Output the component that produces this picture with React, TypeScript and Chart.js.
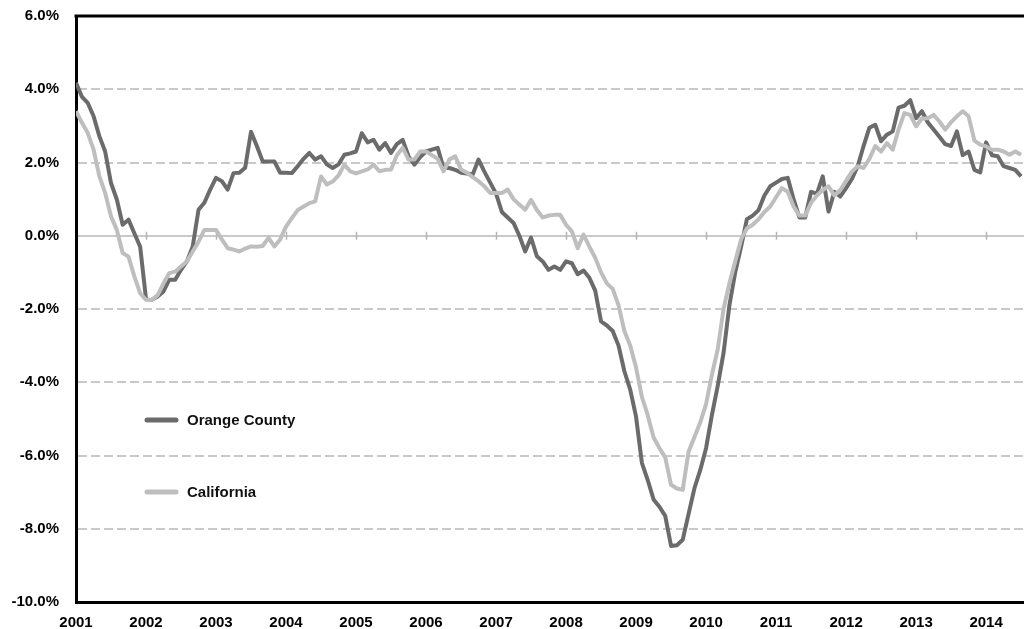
import React, { useEffect, useRef } from "react";
import { Chart, registerables } from "chart.js";

Chart.register(...registerables);

// Monthly year-over-year change, Jan 2001 .. Jul 2014
const orangeCounty: number[] = [
  4.18, 3.8, 3.63, 3.27, 2.72, 2.3, 1.44, 0.99, 0.3, 0.44, 0.07, -0.3,
  -1.72, -1.75, -1.66, -1.52, -1.2, -1.2, -0.93, -0.7, -0.3, 0.71, 0.9, 1.26,
  1.58, 1.49, 1.26, 1.71, 1.72, 1.86, 2.84, 2.45, 2.03, 2.03, 2.03, 1.72,
  1.72, 1.71, 1.9, 2.1, 2.26, 2.08, 2.17, 1.95, 1.85, 1.95, 2.21, 2.25,
  2.3, 2.8, 2.55, 2.62, 2.35, 2.53, 2.26, 2.5, 2.62, 2.17, 1.94, 2.15,
  2.3, 2.35, 2.4, 1.85, 1.85, 1.8, 1.72, 1.7, 1.67, 2.08, 1.75, 1.45,
  1.15, 0.65, 0.5, 0.35, 0.0, -0.43, -0.05, -0.56, -0.7, -0.93, -0.84, -0.93,
  -0.7, -0.75, -1.05, -0.95, -1.15, -1.5, -2.34, -2.45, -2.6, -3.0, -3.7, -4.2,
  -4.94, -6.2, -6.67, -7.2, -7.4, -7.65, -8.47, -8.45, -8.3, -7.6, -6.9, -6.4,
  -5.8, -4.9, -4.1, -3.2, -1.9, -1.0, -0.3, 0.45, 0.55, 0.7, 1.1, 1.35,
  1.45, 1.55, 1.58, 1.0, 0.5, 0.5, 1.2, 1.15, 1.62, 0.66, 1.2, 1.07,
  1.3, 1.55, 1.9, 2.45, 2.95, 3.03, 2.58, 2.76, 2.85, 3.5, 3.55, 3.7,
  3.21, 3.4, 3.1, 2.9, 2.7, 2.5, 2.45, 2.85, 2.2, 2.3, 1.8, 1.73,
  2.55, 2.2, 2.17, 1.9, 1.85, 1.8, 1.62,
];

const california: number[] = [
  3.4, 3.09, 2.81, 2.36, 1.63, 1.17, 0.53, 0.16, -0.47, -0.57, -1.11, -1.57,
  -1.75, -1.75, -1.62, -1.3, -1.02, -0.98, -0.84, -0.7, -0.43, -0.16, 0.16, 0.16,
  0.16, -0.1, -0.34, -0.38, -0.43, -0.35, -0.29, -0.3, -0.28, -0.06, -0.29, -0.1,
  0.25, 0.48, 0.7, 0.8, 0.89, 0.94, 1.62, 1.4, 1.48, 1.65, 1.94, 1.76,
  1.7, 1.76, 1.81, 1.94, 1.76, 1.8, 1.81, 2.2, 2.4, 2.08, 2.08, 2.3,
  2.3, 2.2, 2.1, 1.76, 2.08, 2.17, 1.81, 1.72, 1.6, 1.49, 1.35, 1.17,
  1.17, 1.17, 1.26, 1.0, 0.85, 0.71, 0.98, 0.7, 0.5, 0.55, 0.57, 0.57,
  0.3, 0.12, -0.34, 0.03, -0.3, -0.6, -1.0, -1.3, -1.45, -1.9, -2.6, -3.0,
  -3.6, -4.4, -4.9, -5.5, -5.8, -6.05, -6.8, -6.9, -6.94, -5.9, -5.5, -5.1,
  -4.6, -3.8, -3.1, -2.0, -1.3, -0.7, -0.1, 0.2, 0.3, 0.45, 0.65, 0.8,
  1.05, 1.3, 1.2, 0.8, 0.55, 0.55, 0.9, 1.1, 1.25, 1.35, 1.1, 1.25,
  1.5, 1.75, 1.9, 1.85, 2.1, 2.45, 2.3, 2.53, 2.35, 2.9, 3.35, 3.3,
  2.99, 3.2, 3.21, 3.3, 3.12, 2.9, 3.1, 3.26, 3.4, 3.26, 2.6, 2.49,
  2.44, 2.35, 2.35, 2.3, 2.21, 2.3, 2.21,
];

const yearLabels: string[] = [
  "2001", "2002", "2003", "2004", "2005", "2006", "2007",
  "2008", "2009", "2010", "2011", "2012", "2013", "2014",
];

const yTicks: number[] = [-10, -8, -6, -4, -2, 0, 2, 4, 6];

const seriesNames: string[] = ["Orange County", "California"];

const DARK = "#6b6b6b";
const LIGHT = "#bebebe";
const GRID = "#c9c9c9";
const FONT = { family: "'Liberation Sans', Arial, sans-serif", size: 15, weight: "bold" as const };

const gridPlugin = {
  id: "customGrid",
  beforeDatasetsDraw(chart: any) {
    const { ctx, chartArea, scales } = chart;
    const y = scales.y;
    const x = scales.x;
    ctx.save();
    yTicks.forEach((v) => {
      if (v === yTicks[0] || v === yTicks[yTicks.length - 1]) return;
      const py = Math.round(y.getPixelForValue(v));
      ctx.beginPath();
      ctx.lineWidth = 2;
      ctx.strokeStyle = GRID;
      if (v === 0) ctx.setLineDash([]);
      else ctx.setLineDash([9, 4]);
      ctx.moveTo(chartArea.left + 2, py);
      ctx.lineTo(chartArea.right, py);
      ctx.stroke();
    });
    ctx.setLineDash([]);
    const p0 = y.getPixelForValue(0);
    yearLabels.forEach((_, i) => {
      if (i === 0) return;
      const px = Math.round(x.getPixelForValue(i * 12)) + 0.5;
      ctx.beginPath();
      ctx.lineWidth = 1.5;
      ctx.strokeStyle = "#b5b5b5";
      ctx.moveTo(px, p0 - 4);
      ctx.lineTo(px, p0 + 4);
      ctx.stroke();
    });
    ctx.restore();
  },
  afterDraw(chart: any) {
    const { ctx, chartArea } = chart;
    ctx.save();
    // top frame line
    ctx.beginPath();
    ctx.lineWidth = 3;
    ctx.strokeStyle = "#000";
    ctx.moveTo(chartArea.left - 1.5, chartArea.top);
    ctx.lineTo(chartArea.right, chartArea.top);
    ctx.stroke();
    // legend inside plot
    const items = [
      { label: seriesNames[0], color: DARK, y: 420 },
      { label: seriesNames[1], color: LIGHT, y: 492 },
    ];
    items.forEach((it) => {
      ctx.beginPath();
      ctx.lineWidth = 5;
      ctx.lineCap = "round";
      ctx.strokeStyle = it.color;
      ctx.moveTo(147, it.y);
      ctx.lineTo(176, it.y);
      ctx.stroke();
      ctx.fillStyle = "#111";
      ctx.font = `bold 15px ${FONT.family}`;
      ctx.textBaseline = "middle";
      ctx.textAlign = "left";
      ctx.fillText(it.label, 187, it.y + 1);
    });
    ctx.restore();
  },
};

export default function App() {
  const canvasRef = useRef<HTMLCanvasElement | null>(null);

  useEffect(() => {
    if (!canvasRef.current) return;
    const chart = new Chart(canvasRef.current, {
      type: "line",
      data: {
        datasets: [
          {
            label: seriesNames[1],
            data: california.map((v, i) => ({ x: i, y: v })),
            borderColor: LIGHT,
            borderWidth: 4,
            pointRadius: 0,
            tension: 0,
            borderJoinStyle: "round",
            fill: false,
          },
          {
            label: seriesNames[0],
            data: orangeCounty.map((v, i) => ({ x: i, y: v })),
            borderColor: DARK,
            borderWidth: 4,
            pointRadius: 0,
            tension: 0,
            borderJoinStyle: "round",
            fill: false,
          },
        ],
      },
      options: {
        animation: false,
        responsive: true,
        maintainAspectRatio: false,
        layout: { padding: { top: 16, right: 0, bottom: 0, left: 0 } },
        plugins: { legend: { display: false }, tooltip: { enabled: false } },
        scales: {
          x: {
            type: "linear",
            min: 0,
            max: 162.5,
            grid: { display: false, drawTicks: false },
            border: { display: true, color: "#000", width: 3 },
            ticks: {
              stepSize: 12,
              includeBounds: false,
              autoSkip: false,
              maxRotation: 0,
              padding: 12,
              color: "#000",
              font: FONT,
              callback: (v: any) => {
                const idx = Math.round(Number(v) / 12);
                return Number(v) % 12 === 0 ? yearLabels[idx] ?? "" : "";
              },
            },
            afterFit: (s: any) => {
              s.height = 27;
              s.paddingLeft = 0;
              s.paddingRight = 0;
            },
          },
          y: {
            min: yTicks[0],
            max: yTicks[yTicks.length - 1],
            grid: { display: false, drawTicks: false },
            border: { display: true, color: "#000", width: 3 },
            ticks: {
              stepSize: 2,
              padding: 17,
              color: "#000",
              font: FONT,
              callback: (v: any) => Number(v).toFixed(1) + "%",
            },
            afterFit: (s: any) => {
              s.width = 76;
              s.paddingTop = 0;
              s.paddingBottom = 0;
            },
          },
        },
      },
      plugins: [gridPlugin],
    });
    return () => chart.destroy();
  }, []);

  return (
    <div
      style={{
        position: "fixed",
        left: 0,
        top: 0,
        width: 1024,
        height: 629,
        background: "#fff",
      }}
    >
      <canvas ref={canvasRef} />
    </div>
  );
}
